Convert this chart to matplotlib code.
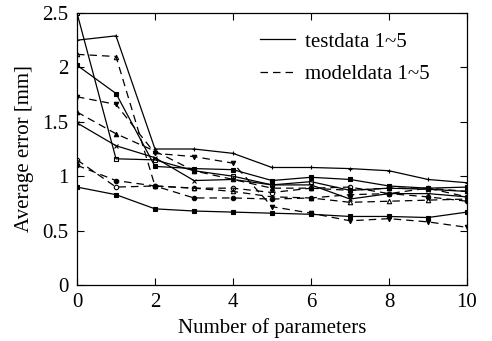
import matplotlib
matplotlib.use("Agg")
import matplotlib.pyplot as plt
from matplotlib.lines import Line2D

plt.rcParams['font.family'] = ['Liberation Serif', 'DejaVu Serif']

x = list(range(11))

# testdata (solid)
test_plus = [2.25, 2.29, 1.25, 1.25, 1.21, 1.08, 1.08, 1.07, 1.05, 0.97, 0.94]
test_fsq = [2.02, 1.76, 1.09, 1.07, 1.06, 0.96, 0.99, 0.97, 0.91, 0.89, 0.90]
test_osq = [2.50, 1.16, 1.15, 1.05, 1.00, 0.92, 0.95, 0.87, 0.89, 0.88, 0.86]
test_x = [1.49, 1.28, 1.17, 0.96, 0.97, 0.92, 0.92, 0.79, 0.84, 0.84, 0.81]
test_star = [0.90, 0.83, 0.70, 0.68, 0.67, 0.66, 0.65, 0.63, 0.63, 0.62, 0.67]

# modeldata (dashed)
model_tu = [2.12, 2.10, 0.91, 0.89, 0.86, 0.81, 0.80, 0.76, 0.77, 0.78, 0.79]
model_td = [1.73, 1.66, 1.21, 1.18, 1.12, 0.72, 0.66, 0.59, 0.61, 0.58, 0.53]
model_tu2 = [1.59, 1.39, 1.23, 1.05, 0.97, 0.89, 0.89, 0.87, 0.89, 0.89, 0.86]
model_oc = [1.15, 0.90, 0.91, 0.89, 0.89, 0.85, 0.89, 0.90, 0.84, 0.89, 0.81]
model_fc = [1.10, 0.96, 0.91, 0.80, 0.80, 0.79, 0.80, 0.83, 0.84, 0.81, 0.77]

legend_labels = ["testdata 1~5", "modeldata 1~5"]
xticks = [0, 2, 4, 6, 8, 10]
yticks = [0, 0.5, 1, 1.5, 2, 2.5]
yticklabels = ["0", "0.5", "1", "1.5", "2", "2.5"]

fig = plt.figure(figsize=(4.92, 3.41), dpi=100)
ax = fig.add_axes([77/492, 1-285/341, (467-77)/492, (285-13)/341])

lw = 0.9
ms = 3.2
solid = [(test_plus, '+', 'k', ms), (test_fsq, 's', 'k', ms), (test_osq, 's', 'none', ms),
         (test_x, 'x', 'k', ms), (test_star, 's', 'k', 2.3)]
for ys, m, fc, s in solid:
    ax.plot(x, ys, '-', color='k', lw=lw, marker=m, ms=s, mfc=fc, mec='k', mew=0.8)

dashed = [(model_tu, '^', 'none'), (model_td, 'v', 'k'), (model_tu2, '^', 'k'),
          (model_oc, 'o', 'none'), (model_fc, 'o', 'k')]
for ys, m, fc in dashed:
    ax.plot(x, ys, color='k', lw=lw, ls=(0, (6, 4)), marker=m, ms=ms, mfc=fc, mec='k', mew=0.8)

ax.set_xlim(0, 10)
ax.set_ylim(0, 2.5)
ax.set_xticks(xticks)
ax.set_yticks(yticks)
ax.set_yticklabels(yticklabels)
ax.tick_params(direction='in', top=True, right=True, length=5, width=0.8, labelsize=15, pad=6)
for sp in ax.spines.values():
    sp.set_linewidth(0.9)

ax.set_xlabel("Number of parameters", fontsize=15, labelpad=4)
ax.set_ylabel("Average error [mm]", fontsize=15, labelpad=6)

handles = [Line2D([0], [0], color='k', lw=lw, ls='-'),
           Line2D([0], [0], color='k', lw=lw, ls=(0, (6, 4)))]
ax.legend(handles, legend_labels, loc='upper left', frameon=False, fontsize=15,
          handlelength=1.7, handletextpad=0.45, labelspacing=0.62,
          borderpad=0, borderaxespad=0,
          bbox_to_anchor=((260-77)/390, 1-(32-13)/272))

fig.savefig("out.png", dpi=100)
